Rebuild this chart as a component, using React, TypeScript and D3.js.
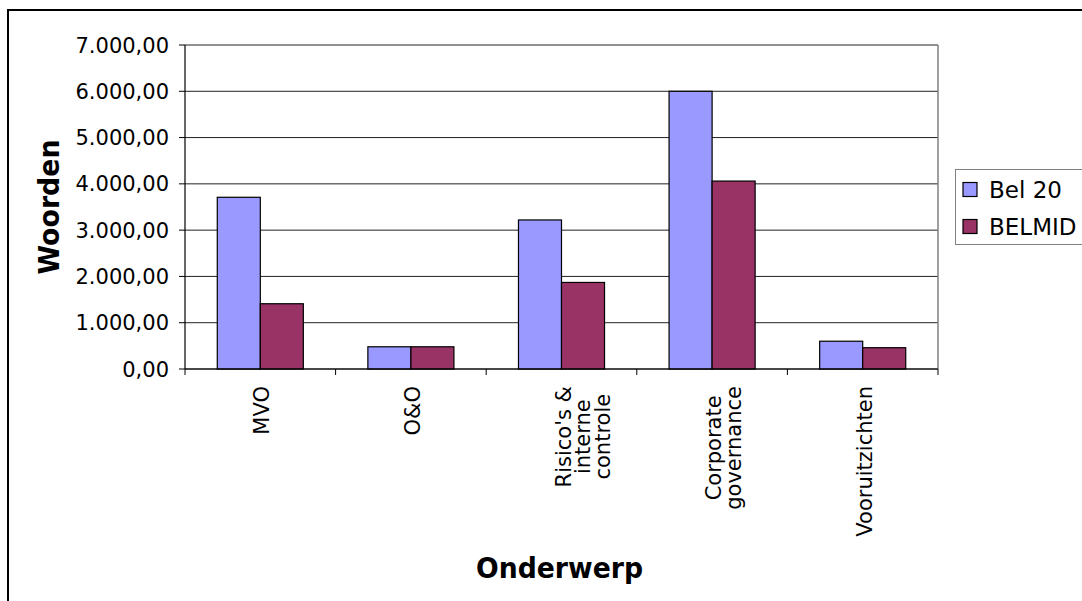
import React, { useEffect, useRef } from "react";
import * as d3 from "d3";

// Topics on the category axis (line breaks as shown under the axis)
const categories = ["MVO", "O&O", "Risico's & interne controle", "Corporate governance", "Vooruitzichten"];
const categoryLines = [["MVO"], ["O&O"], ["Risico's &", "interne", "controle"], ["Corporate", "governance"], ["Vooruitzichten"]];

// Average number of words per topic
const bel20 = [3710, 480, 3220, 6000, 600];
const belmid = [1410, 480, 1870, 4060, 460];

const seriesNames = ["Bel 20", "BELMID"];
const seriesColors = ["#9999FF", "#993366"];
const yTicks = [0, 1000, 2000, 3000, 4000, 5000, 6000, 7000];

const W = 1082;
const H = 601;
const plot = { left: 185, right: 938, top: 45, bottom: 369 };
const FONT = "'DejaVu Sans', Verdana, sans-serif";

const nl = d3.formatLocale({ decimal: ",", thousands: ".", grouping: [3], currency: ["€", ""] });
const fmt = nl.format(",.2f");

export default function App() {
  const labelRef = useRef<SVGGElement>(null);

  const x = d3.scaleBand<string>().domain(categories).range([plot.left, plot.right]).paddingInner(0).paddingOuter(0);
  const inner = d3
    .scaleBand<number>()
    .domain([0, 1])
    .range([0, x.bandwidth()])
    .paddingInner(0)
    .paddingOuter(0.75);
  const y = d3.scaleLinear().domain([0, 7000]).range([plot.bottom, plot.top]);

  const series = [bel20, belmid];

  // Rotated category labels: lines centred on the longest one, which ends just below the axis
  useEffect(() => {
    const g = d3.select(labelRef.current);
    g.selectAll("*").remove();
    categories.forEach((c, ci) => {
      const lines = categoryLines[ci];
      const cx = (x(c) as number) + x.bandwidth() / 2;
      const grp = g.append("g");
      const texts = lines.map((ln) =>
        grp
          .append("text")
          .attr("text-anchor", "middle")
          .attr("font-family", FONT)
          .attr("font-size", 21)
          .attr("fill", "#000")
          .text(ln)
      );
      const maxLen = d3.max(texts, (t) => (t.node() as SVGTextElement).getComputedTextLength()) || 0;
      const midY = plot.bottom + 17 + maxLen / 2;
      texts.forEach((t, li) => {
        const lx = cx + 9 + li * 19.5;
        t.attr("transform", `translate(${lx},${midY}) rotate(-90)`);
      });
    });
  }, []);

  return (
    <svg width={W} height={H} style={{ position: "fixed", left: 0, top: 0, background: "#fff" }}>
      <rect x={0} y={0} width={W} height={H} fill="#fff" />
      {/* chart frame */}
      <rect x={8} y={10} width={1200} height={800} fill="none" stroke="#000" strokeWidth={2} />

      {/* gridlines */}
      {yTicks.map((t) => (
        <line key={"g" + t} x1={plot.left} x2={plot.right} y1={y(t)} y2={y(t)} stroke="#222" strokeWidth={1} />
      ))}
      <line x1={plot.right} x2={plot.right} y1={plot.top} y2={plot.bottom} stroke="#808080" strokeWidth={1.5} />

      {/* bars */}
      {categories.map((c, ci) =>
        series.map((s, si) => (
          <rect
            key={c + si}
            x={(x(c) as number) + (inner(si) as number)}
            y={y(s[ci])}
            width={inner.bandwidth()}
            height={plot.bottom - y(s[ci])}
            fill={seriesColors[si]}
            stroke="#000"
            strokeWidth={1.2}
          />
        ))
      )}

      {/* y axis */}
      <line x1={plot.left} x2={plot.left} y1={plot.top} y2={plot.bottom} stroke="#000" strokeWidth={1.2} />
      {yTicks.map((t) => (
        <g key={"t" + t}>
          <line x1={plot.left - 6} x2={plot.left} y1={y(t)} y2={y(t)} stroke="#000" strokeWidth={1} />
          <text
            x={plot.left - 16}
            y={y(t)}
            dy="0.36em"
            textAnchor="end"
            fontFamily={FONT}
            fontSize={21}
            fill="#000"
          >
            {fmt(t)}
          </text>
        </g>
      ))}

      {/* x axis */}
      <line x1={plot.left} x2={plot.right} y1={plot.bottom} y2={plot.bottom} stroke="#000" strokeWidth={1.2} />
      {[...categories.map((c) => x(c) as number), plot.right].map((tx, i) => (
        <line key={"xt" + i} x1={tx} x2={tx} y1={plot.bottom} y2={plot.bottom + 6} stroke="#000" strokeWidth={1} />
      ))}
      <g ref={labelRef} />

      {/* axis titles */}
      <text
        transform={`translate(59,${(plot.top + plot.bottom) / 2}) rotate(-90)`}
        textAnchor="middle"
        fontFamily={FONT}
        fontWeight="bold"
        fontSize={29}
        textLength={135}
        lengthAdjust="spacingAndGlyphs"
        fill="#000"
      >
        Woorden
      </text>
      <text
        x={(plot.left + plot.right) / 2 - 2}
        y={578}
        textAnchor="middle"
        fontFamily={FONT}
        fontWeight="bold"
        fontSize={29}
        textLength={167}
        lengthAdjust="spacingAndGlyphs"
        fill="#000"
      >
        Onderwerp
      </text>

      {/* legend */}
      <rect x={955.5} y={169.5} width={200} height={75} fill="#fff" stroke="#808080" strokeWidth={1} />
      {seriesNames.map((n, i) => (
        <g key={n}>
          <rect x={963} y={182.5 + i * 37} width={14} height={14} fill={seriesColors[i]} stroke="#000" strokeWidth={1.2} />
          <text x={989} y={198 + i * 37} fontFamily={FONT} fontSize={23} fill="#000">
            {n}
          </text>
        </g>
      ))}
    </svg>
  );
}
